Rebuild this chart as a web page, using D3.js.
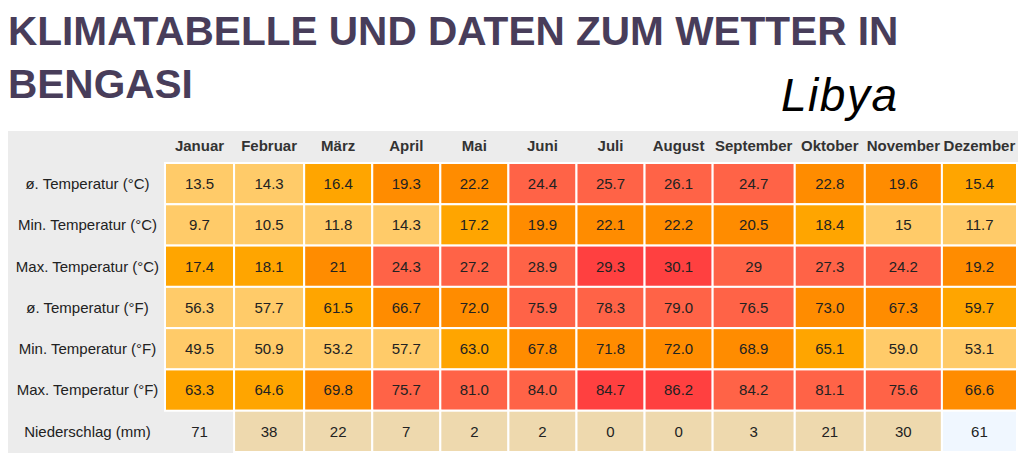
<!DOCTYPE html>
<html>
<head>
<meta charset="utf-8">
<script src="https://cdn.jsdelivr.net/npm/d3@7"></script>
<style>
  html, body { margin: 0; padding: 0; background: #fff; }
  svg { display: block; font-family: "Liberation Sans", Arial, sans-serif; }
</style>
</head>
<body>
<svg id="chart" width="1024" height="468"></svg>
<script>
// ---- data ----
const titleLines = ["KLIMATABELLE UND DATEN ZUM WETTER IN", "BENGASI"];
const countryLabel = "Libya";
const months = ["Januar","Februar","März","April","Mai","Juni","Juli","August","September","Oktober","November","Dezember"];
const rowLabels = ["ø. Temperatur (°C)","Min. Temperatur (°C)","Max. Temperatur (°C)","ø. Temperatur (°F)","Min. Temperatur (°F)","Max. Temperatur (°F)","Niederschlag (mm)"];
const avgC = ["13.5","14.3","16.4","19.3","22.2","24.4","25.7","26.1","24.7","22.8","19.6","15.4"];
const minC = ["9.7","10.5","11.8","14.3","17.2","19.9","22.1","22.2","20.5","18.4","15","11.7"];
const maxC = ["17.4","18.1","21","24.3","27.2","28.9","29.3","30.1","29","27.3","24.2","19.2"];
const avgF = ["56.3","57.7","61.5","66.7","72.0","75.9","78.3","79.0","76.5","73.0","67.3","59.7"];
const minF = ["49.5","50.9","53.2","57.7","63.0","67.8","71.8","72.0","68.9","65.1","59.0","53.1"];
const maxF = ["63.3","64.6","69.8","75.7","81.0","84.0","84.7","86.2","84.2","81.1","75.6","66.6"];
const precip = ["71","38","22","7","2","2","0","0","3","21","30","61"];
const rowUnits = ["C","C","C","F","F","F","mm"];

// ---- layout ----
const W = 1024, H = 468;
const tableLeft = 8, tableRight = 1018, tableTop = 131, tableBottom = 453;
const labelColRight = 165;
const headerBottom = 163;
const colWeights = [69,70,68,68,68,68,68,68,82,70,77,75];

const svg = d3.select("#chart");

// title
svg.append("g").selectAll("text").data(titleLines).join("text")
  .attr("x", 8)
  .attr("y", (d,i) => 45 + i*53)
  .attr("fill", "#483d5a")
  .attr("font-size", 40.6)
  .attr("font-weight", "bold")
  .text(d => d);

svg.append("text")
  .attr("x", 781).attr("y", 111)
  .attr("font-size", 46)
  .attr("font-style", "italic")
  .attr("letter-spacing", 1.5)
  .attr("fill", "#000")
  .text(countryLabel);

// table background
svg.append("rect")
  .attr("x", tableLeft).attr("y", tableTop)
  .attr("width", tableRight - tableLeft).attr("height", tableBottom - tableTop)
  .attr("fill", "#ececec");

// column scale from cumulative weights
const cum = [0];
colWeights.forEach(w => cum.push(cum[cum.length-1] + w));
const xs = d3.scaleLinear().domain([0, cum[cum.length-1]]).range([labelColRight, 1017]);
const colX = i => xs(cum[i]);
const colW = i => xs(cum[i+1]) - xs(cum[i]);

const y = d3.scaleBand().domain(d3.range(rowLabels.length)).range([headerBottom, 452]).paddingInner(0);

// colour scales
const tempColor = d3.scaleThreshold()
  .domain([15.2, 19.0, 23.5, 29.1])
  .range(["#ffcb69", "#ffa500", "#ff8c00", "#ff6347", "#ff4040"]);
const precipColor = d3.scaleThreshold()
  .domain([40, 70])
  .range(["#eed9ae", "#f0f7ff", "none"]);
const toC = f => (f - 32) * 5 / 9;

const rows = [avgC, minC, maxC, avgF, minF, maxF, precip];
const cells = [];
rows.forEach((r, ri) => r.forEach((v, ci) => cells.push({ri, ci, v, unit: rowUnits[ri]})));

function fillFor(d) {
  const n = +d.v;
  if (d.unit === "C") return tempColor(n);
  if (d.unit === "F") return tempColor(toC(n));
  return precipColor(n);
}

// header
svg.append("g").selectAll("text").data(months).join("text")
  .attr("x", (d,i) => colX(i) + colW(i)/2)
  .attr("y", 150.5)
  .attr("text-anchor", "middle")
  .attr("font-size", 15)
  .attr("font-weight", "bold")
  .attr("fill", "#333")
  .text(d => d);

// row labels
svg.append("g").selectAll("text").data(rowLabels).join("text")
  .attr("x", (tableLeft + labelColRight)/2 + 1)
  .attr("y", (d,i) => y(i) + y.bandwidth()/2)
  .attr("dy", "0.36em")
  .attr("text-anchor", "middle")
  .attr("font-size", 15)
  .attr("fill", "#222")
  .text(d => d);

// cells
const g = svg.append("g");
g.selectAll("rect").data(cells.filter(d => fillFor(d) !== "none")).join("rect")
  .attr("x", d => colX(d.ci))
  .attr("y", d => y(d.ri))
  .attr("width", d => colW(d.ci))
  .attr("height", y.bandwidth())
  .attr("fill", fillFor)
  .attr("stroke", "#fff")
  .attr("stroke-width", 2);

g.selectAll("text").data(cells).join("text")
  .attr("x", d => colX(d.ci) + colW(d.ci)/2)
  .attr("y", d => y(d.ri) + y.bandwidth()/2)
  .attr("dy", "0.36em")
  .attr("text-anchor", "middle")
  .attr("font-size", 15)
  .attr("fill", "#222")
  .text(d => d.v);
</script>
</body>
</html>
